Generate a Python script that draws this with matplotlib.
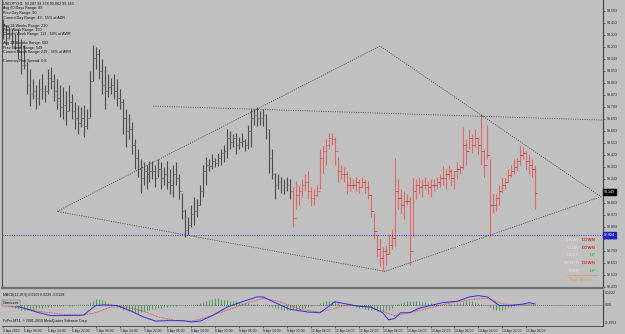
import matplotlib
matplotlib.use('Agg')
import matplotlib.pyplot as plt
import matplotlib.transforms as mtransforms
import numpy as np

W, H = 625, 334
BG = '#c0c0c0'

# ---------------- data (USDJPY H1 bars) ----------------
highs = [94.44, 94.40, 94.38, 94.37, 94.33, 94.37, 94.29, 94.25, 94.12, 94.07,
         93.99, 93.95, 93.99, 94.03, 93.95, 94.07, 94.08, 94.03, 93.99, 93.95,
         93.93, 93.90, 93.95, 93.88, 93.82, 93.80, 93.78, 93.80, 93.77, 94.05,
         94.25, 94.23, 94.22, 94.14, 94.09, 94.03, 94.00, 94.03, 93.99, 93.92,
         93.84, 93.77, 93.73, 93.67, 93.54, 93.47, 93.39, 93.37, 93.35, 93.38,
         93.38, 93.35, 93.39, 93.37, 93.33, 93.38, 93.32, 93.35, 93.37, 93.28,
         93.14, 93.02, 92.96, 93.05, 93.11, 93.09, 93.20, 93.35, 93.41, 93.39,
         93.43, 93.40, 93.44, 93.47, 93.50, 93.62, 93.60, 93.58, 93.59, 93.56,
         93.59, 93.54, 93.65, 93.77, 93.77, 93.78, 93.75, 93.77, 93.73, 93.62,
         93.47, 93.29, 93.28, 93.26, 93.24, 93.26, 93.24, 93.18, 93.23, 93.20,
         93.24, 93.28, 93.30, 93.18, 93.17, 93.20, 93.47, 93.50, 93.54, 93.59,
         93.59, 93.56, 93.41, 93.35, 93.33, 93.30, 93.26, 93.24, 93.26, 93.24,
         93.26, 93.24, 93.23, 93.13, 92.98, 92.83, 92.79, 92.73, 92.75, 92.83,
         92.87, 93.40, 93.24, 93.17, 93.15, 93.13, 93.11, 93.26, 93.24, 93.26,
         93.24, 93.26, 93.23, 93.24, 93.24, 93.26, 93.28, 93.34, 93.32, 93.34,
         93.32, 93.30, 93.37, 93.35, 93.63, 93.54, 93.62, 93.58, 93.62, 93.56,
         93.73, 93.47, 93.65, 93.39, 93.14, 93.13, 93.20, 93.26, 93.26, 93.32,
         93.35, 93.39, 93.40, 93.50, 93.48, 93.45, 93.43, 93.39, 93.35]
lows = [94.29, 94.25, 94.29, 94.25, 94.22, 94.14, 94.03, 94.07, 93.88, 93.79,
        93.84, 93.77, 93.80, 93.84, 93.82, 93.88, 93.92, 93.83, 93.77, 93.71,
        93.69, 93.65, 93.75, 93.69, 93.62, 93.58, 93.63, 93.56, 93.62, 93.71,
        93.98, 94.07, 93.99, 93.88, 93.77, 93.86, 93.88, 93.84, 93.79, 93.77,
        93.58, 93.48, 93.54, 93.43, 93.32, 93.26, 93.14, 93.20, 93.17, 93.22,
        93.24, 93.18, 93.26, 93.17, 93.20, 93.17, 93.13, 93.11, 93.20, 93.09,
        92.94, 92.81, 92.82, 92.88, 92.90, 92.96, 93.05, 93.11, 93.20, 93.30,
        93.32, 93.33, 93.34, 93.35, 93.37, 93.40, 93.47, 93.48, 93.43, 93.47,
        93.48, 93.45, 93.47, 93.48, 93.65, 93.64, 93.65, 93.64, 93.54, 93.29,
        93.24, 93.09, 93.17, 93.14, 93.13, 93.15, 93.09, 92.88, 93.02, 93.05,
        93.11, 93.15, 93.09, 93.04, 93.05, 93.11, 93.17, 93.28, 93.35, 93.47,
        93.50, 93.35, 93.22, 93.24, 93.22, 93.13, 93.15, 93.17, 93.15, 93.14,
        93.18, 93.14, 93.09, 92.96, 92.79, 92.66, 92.59, 92.55, 92.60, 92.68,
        92.72, 92.73, 93.02, 92.98, 92.94, 93.05, 92.60, 92.81, 93.09, 93.13,
        93.11, 93.17, 93.13, 93.11, 93.15, 93.17, 93.18, 93.20, 93.17, 93.24,
        93.19, 93.17, 93.24, 93.28, 93.32, 93.35, 93.47, 93.44, 93.48, 93.43,
        93.35, 93.26, 93.39, 92.81, 92.99, 93.00, 93.05, 93.14, 93.17, 93.22,
        93.26, 93.28, 93.30, 93.35, 93.39, 93.32, 93.28, 93.26, 93.02]
closes = [94.33, 94.30, 94.32, 94.28, 94.26, 94.20, 94.10, 94.10, 93.95, 93.88,
          93.90, 93.85, 93.92, 93.90, 93.90, 94.00, 93.98, 93.90, 93.85, 93.78,
          93.80, 93.75, 93.82, 93.75, 93.70, 93.66, 93.70, 93.64, 93.70, 93.98,
          94.15, 94.18, 94.05, 93.95, 93.90, 93.93, 93.95, 93.90, 93.85, 93.82,
          93.70, 93.60, 93.62, 93.50, 93.40, 93.32, 93.25, 93.30, 93.28, 93.30,
          93.30, 93.25, 93.32, 93.25, 93.28, 93.22, 93.20, 93.28, 93.25, 93.15,
          93.00, 92.86, 92.90, 92.98, 93.00, 93.05, 93.15, 93.30, 93.35, 93.34,
          93.38, 93.36, 93.40, 93.44, 93.45, 93.55, 93.52, 93.55, 93.50, 93.52,
          93.53, 93.50, 93.60, 93.70, 93.72, 93.70, 93.70, 93.72, 93.62, 93.40,
          93.28, 93.20, 93.22, 93.20, 93.18, 93.20, 93.15, 92.95, 93.12, 93.15,
          93.20, 93.22, 93.15, 93.10, 93.12, 93.15, 93.40, 93.45, 93.50, 93.55,
          93.54, 93.45, 93.30, 93.28, 93.28, 93.20, 93.20, 93.20, 93.22, 93.18,
          93.22, 93.18, 93.12, 93.00, 92.85, 92.72, 92.65, 92.70, 92.68, 92.75,
          92.80, 93.15, 93.10, 93.05, 93.08, 93.08, 92.70, 93.15, 93.20, 93.18,
          93.20, 93.20, 93.18, 93.20, 93.20, 93.22, 93.25, 93.25, 93.28, 93.30,
          93.25, 93.30, 93.32, 93.33, 93.50, 93.45, 93.55, 93.50, 93.55, 93.50,
          93.45, 93.35, 93.42, 93.05, 93.05, 93.10, 93.15, 93.20, 93.22, 93.27,
          93.30, 93.33, 93.38, 93.42, 93.44, 93.38, 93.35, 93.32, 93.14]
week_start = 97          # first bar of the current week (drawn red)

# MACD panel
macd_hist = [0.02, 0.02, 0.01,
             -0.02, -0.03, -0.04, -0.05, -0.06, -0.06, -0.05, -0.05, -0.04,
             -0.03, -0.03, -0.02, -0.02, -0.02, -0.01, -0.01, -0.01, -0.01, 0.0,
             -0.01, -0.01, 0.0, 0.0, 0.01, 0.01, 0.02,
             0.04, 0.06, 0.08, 0.08, 0.07,
             0.05, 0.03, 0.02, 0.0,
             -0.02, -0.03, -0.05, -0.06, -0.07, -0.08, -0.09, -0.09, -0.08, -0.07, -0.06, -0.05,
             -0.04, -0.04, -0.03, -0.03, -0.02, -0.02, -0.01, -0.01, -0.01,
             0.0, 0.0, -0.01, 0.0, 0.0, 0.01, 0.02, 0.03,
             0.04, 0.06, 0.07, 0.08, 0.09, 0.09, 0.08, 0.07, 0.07, 0.06, 0.05, 0.05, 0.04,
             0.03, 0.03, 0.03, 0.02, 0.02, 0.02, 0.01, 0.01,
             0.0, -0.01, -0.02, -0.03, -0.04,
             -0.05, -0.05, -0.06, -0.06, -0.06, -0.05, -0.05, -0.04, -0.03, -0.02, -0.01, 0.0, 0.01,
             0.03, 0.04, 0.05, 0.06, 0.06, 0.05, 0.03,
             0.01, 0.0, -0.01, -0.01, -0.01, -0.02,
             -0.03, -0.03, -0.04, -0.05, -0.05, -0.06, -0.07, -0.07, -0.07, -0.06, -0.05, -0.03,
             0.0, 0.02, 0.03, 0.04, 0.05, 0.05, 0.05, 0.05, 0.05, 0.04, 0.04, 0.03, 0.03, 0.02, 0.02,
             0.01, 0.01, 0.01, 0.02, 0.02, 0.02, 0.03,
             0.03, 0.04, 0.05, 0.05, 0.05, 0.04, 0.03, 0.02, 0.01, 0.0,
             -0.02, -0.04, -0.05, -0.05, -0.05, -0.04, -0.03, -0.02, -0.01,
             0.0, 0.01, 0.01, 0.01, 0.01, 0.0, 0.0]
macd_x = [0, 4, 12, 16, 20, 27, 31, 34, 38, 43, 47, 51, 55, 60, 63, 66, 70, 75, 80,
          85, 87, 92, 96, 102, 106, 110, 111, 115, 119, 123, 127, 129, 131, 133, 136,
          139, 143, 147, 152, 156, 159, 162, 166, 170, 174, 176, 178]
macd_main = [0.0, 0.0, -0.088, -0.123, -0.123, -0.116, 0.0, 0.007, 0.0, -0.07, -0.14,
             -0.19, -0.185, -0.185, -0.20, -0.19, -0.123, -0.018, 0.046, 0.105, 0.105,
             0.018, -0.046, -0.08, -0.088, 0.018, 0.046, 0.018, -0.01, -0.018, -0.088,
             -0.175, -0.158, -0.088, -0.088, -0.035, 0.0, 0.035, 0.053, 0.105, 0.12,
             0.105, 0.0, 0.0, 0.018, 0.035, 0.018]
sig_x = [0, 7, 12, 19, 26, 31, 36, 40, 47, 52, 58, 63, 67, 74, 82, 87, 92, 100, 106,
         111, 115, 122, 127, 131, 136, 141, 148, 156, 162, 167, 172, 178]
macd_signal = [0.0, -0.035, -0.07, -0.105, -0.123, -0.088, -0.018, -0.01, -0.07, -0.14,
               -0.185, -0.19, -0.158, -0.07, 0.035, 0.088, 0.053, -0.053, -0.08, -0.035,
               0.01, -0.018, -0.07, -0.123, -0.088, -0.046, 0.018, 0.07, 0.088, 0.018,
               0.01, 0.018]
macd_top_lbl, macd_bot_lbl = 0.1022, -0.2053

# chart objects (bar index, price)
diamond_i = [18.1, 126.1, 200.0, 127.8, 18.1]
diamond_p = [93.00, 94.24, 93.11, 92.55, 93.00]
resist_i = [50.2, 200.7]
resist_p = [93.79, 93.685]
hline_price = 92.824
last_price = 93.143

price_ticks = [94.503, 94.413, 94.323, 94.233, 94.143, 94.053, 93.963, 93.873,
               93.783, 93.693, 93.603, 93.513, 93.423, 93.333, 93.243, 93.153,
               93.063, 92.973, 92.883, 92.793, 92.703, 92.613, 92.523, 92.433]
time_tick_idx = [0, 7, 15, 23, 31, 39, 47, 55, 63, 71, 79, 87, 95, 103, 111, 119,
                 127, 135, 143, 151, 159, 167, 175]
time_tick_lbl = ['4 Apr 2010', '6 Apr 06:00', '6 Apr 14:00', '6 Apr 22:00',
                 '7 Apr 06:00', '7 Apr 14:00', '7 Apr 22:00', '8 Apr 06:00',
                 '8 Apr 14:00', '8 Apr 22:00', '9 Apr 06:00', '9 Apr 14:00',
                 '9 Apr 22:00', '12 Apr 06:00', '12 Apr 14:00', '12 Apr 22:00',
                 '13 Apr 06:00', '13 Apr 14:00', '13 Apr 22:00', '14 Apr 06:00',
                 '14 Apr 14:00', '14 Apr 22:00', '15 Apr 06:00']

info_lines = ['USDJPY,H1  93.287 93.378 93.062 93.143',
              'Avg 60 Days Range: 89', 'Prev Day Range: 90',
              'Current Day Range: 49 - 55% of ADR', '',
              'Avg 24 Weeks Range: 230', 'Prev Week Range: 150',
              'Current Week Range: 113 - 50% of AWR', '',
              'Avg 24 Months Range: 602', 'Prev Month Range: 549',
              'Current Month Range: 219 - 36% of AMR', '',
              'Currency Pair Spread: 0.8']
moves_names = ['TODAY', 'Y-DAY', 'WEEK', 'MONTH', 'YEAR']
moves_vals = ['DOWN', 'DOWN', 'UP', 'DOWN', 'UP']

# ---------------- figure ----------------
plt.rcParams['font.family'] = ['Liberation Sans', 'DejaVu Sans']
fig = plt.figure(figsize=(W / 100, H / 100), dpi=100, facecolor=BG)


def fpos(l, t, r, b):
    return [l / W, 1 - b / H, (r - l) / W, (b - t) / H]


XL = (-0.33, 200.67)
ax = fig.add_axes(fpos(2, 0, 603, 288))
ax.set_facecolor(BG)
ax.set_xlim(*XL)
ax.set_ylim(92.4255, 94.5855)

n = len(highs)
idx = np.arange(n)
opens = [closes[0]] + closes[:-1]
cols = ['#4a4a4a' if i < week_start else '#e06868' for i in range(n)]
tick_cols = ['#6a6a6a' if i < week_start else '#a04848' for i in range(n)]
ax.vlines(idx, lows, highs, colors=cols, lw=0.8)
ax.hlines(opens, idx - 0.45, idx, colors=tick_cols, lw=0.6)
ax.hlines(closes, idx, idx + 0.45, colors=tick_cols, lw=0.6)

dot = (0, (1.2, 1.6))
ax.plot(diamond_i, diamond_p, color='#3a3a3a', lw=0.6, ls=dot)
ax.plot(resist_i, resist_p, color='#3a3a3a', lw=0.6, ls=dot)
ax.axhline(hline_price, color='#2020c8', lw=0.6, ls=dot)

ax.yaxis.tick_right()
ax.set_yticks(price_ticks)
# the tick hidden behind the last-price marker is left blank
ax.set_yticklabels(['' if abs(v - last_price) < 0.03 else f'{v:.3f}'
                    for v in price_ticks])
ax.tick_params(axis='y', labelsize=2.6, length=1.5, width=0.4, pad=1.5,
               colors='#202020')
ax.set_xticks([])
ax.spines['top'].set_visible(False)
ax.spines['left'].set_color('#505050')
ax.spines['right'].set_color('#404040')
ax.spines['bottom'].set_color('#707070')
ax.spines['bottom'].set_linewidth(1.6)
for s in ['left', 'right']:
    ax.spines[s].set_linewidth(0.8)

trans = mtransforms.blended_transform_factory(ax.transAxes, ax.transData)
ax.text(1.002, last_price, f'{last_price:.3f}', transform=trans, fontsize=2.6,
        color='white', va='center', ha='left',
        bbox=dict(boxstyle='square,pad=0.25', fc='black', ec='black'))
ax.text(1.002, hline_price, f'{hline_price:.3f}', transform=trans, fontsize=2.6,
        color='white', va='center', ha='left',
        bbox=dict(boxstyle='square,pad=0.25', fc='#2020c8', ec='#2020c8'))

# info text block
ys = [4, 8.5, 13, 17.5, 0, 25.5, 30, 34.5, 0, 43, 47.5, 52, 0, 61]
for line, y in zip(info_lines, ys):
    if line:
        fig.text(3 / W, 1 - y / H, line, fontsize=2.7, color='#101010',
                 va='center', ha='left')

# trend labels at right
for k, (nm, vv) in enumerate(zip(moves_names, moves_vals)):
    y = 240 + k * 7.7
    fig.text(580 / W, 1 - y / H, nm, fontsize=3.2, color='#ece2d2',
             va='center', ha='right')
    fig.text(596 / W, 1 - y / H, vv, fontsize=3.2, fontweight='bold',
             color='#d23030' if vv == 'DOWN' else '#30c030',
             va='center', ha='right')
fig.add_artist(plt.Line2D([567 / W, 597 / W], [1 - 275 / H, 1 - 275 / H],
                          color='#d8a060', lw=0.5))
fig.text(581 / W, 1 - 280 / H, 'Main Moves', fontsize=3.2, color='#e09838',
         va='center', ha='center')

# ---------------- MACD panel ----------------
ax2 = fig.add_axes(fpos(2, 290, 603, 326))
ax2.set_facecolor(BG)
ax2.set_xlim(*XL)
ax2.set_ylim(-0.25, 0.189)
ax2.vlines(idx, 0, macd_hist, colors='#3c9c3c', lw=0.6)
ax2.axhline(0, color='#303030', lw=0.5, ls=dot)
ax2.plot(sig_x, macd_signal, color='#e03030', lw=0.6, ls=(0, (1, 1)))
ax2.plot(macd_x, macd_main, color='#3030e0', lw=0.7)
ax2.set_yticks([])
ax2.set_xticks(time_tick_idx)
ax2.set_xticklabels(time_tick_lbl, ha='left')
ax2.tick_params(axis='x', labelsize=2.4, length=1.5, width=0.4, pad=1,
                colors='#202020')
for s in ['top', 'left']:
    ax2.spines[s].set_visible(False)
ax2.spines['right'].set_color('#404040')
ax2.spines['bottom'].set_color('#404040')
ax2.spines['right'].set_linewidth(0.8)
ax2.spines['bottom'].set_linewidth(0.6)

fig.text(3 / W, 1 - 295 / H, 'MACD(12,26,9) 0.0109 0.0228 -0.0128', fontsize=2.5,
         color='#101010', va='center')
fig.text(3 / W, 1 - 303 / H, 'Ottimizzati', fontsize=2.5, color='#101010',
         va='center', bbox=dict(boxstyle='square,pad=0.2', fc=BG, ec='#606060', lw=0.3))
fig.text(3 / W, 1 - 321 / H, 'FxPro MT4, \u00a9 2001-2010 MetaQuotes Software Corp.',
         fontsize=2.5, color='#101010', va='center')
for txt, y in [(f'{macd_top_lbl:.4f}', 293.5), ('0.00', 305.5),
               (f'{macd_bot_lbl:.4f}', 323.5)]:
    fig.text(605 / W, 1 - y / H, txt, fontsize=2.6, color='#202020', va='center')

fig.savefig('out.png', dpi=100, facecolor=BG)
